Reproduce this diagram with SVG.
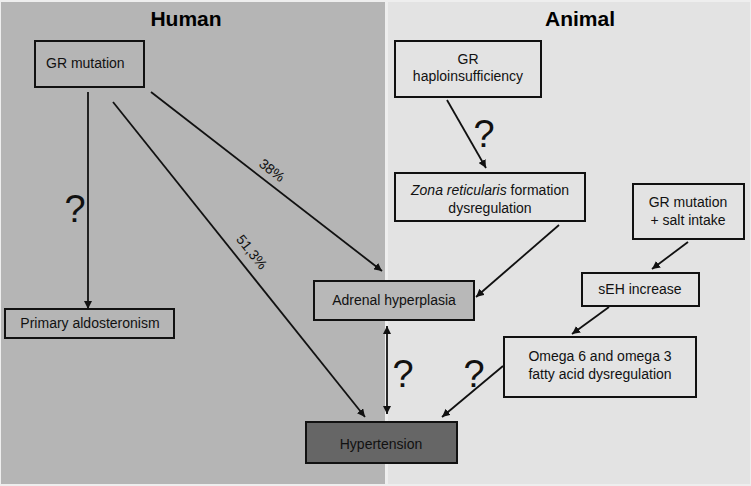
<svg xmlns="http://www.w3.org/2000/svg" width="751" height="486" viewBox="0 0 751 486">
<style>
.bx{stroke:#111;stroke-width:2;}
.t{font-family:"Liberation Sans",Arial,sans-serif;font-size:14px;fill:#111;text-anchor:middle;}
.h{font-family:"Liberation Sans",Arial,sans-serif;font-size:21px;font-weight:bold;fill:#000;text-anchor:middle;}
.q{font-family:"Liberation Sans",Arial,sans-serif;font-size:38px;fill:#111;text-anchor:middle;}
.lb{font-family:"Liberation Sans",Arial,sans-serif;font-size:14px;fill:#111;text-anchor:middle;}
.c{stroke:#111;stroke-width:1.8;fill:none;}
</style>
<defs>
<marker id="ah" viewBox="0 0 10 10" refX="10" refY="5" markerWidth="8" markerHeight="8" orient="auto-start-reverse" markerUnits="userSpaceOnUse">
<path d="M0,0 L10,5 L0,10 z" fill="#111"/>
</marker>
</defs>
<rect x="0" y="0" width="751" height="486" fill="#eeeeee"/>
<rect x="1" y="2" width="384" height="482" fill="#b5b5b5"/>
<rect x="388" y="2" width="362" height="482" fill="#e3e3e3"/>
<text class="h" x="186" y="26">Human</text>
<text class="h" x="580" y="26">Animal</text>
<g id="connectors">
<line class="c" x1="88" y1="92" x2="88" y2="309" marker-end="url(#ah)"/>
<line class="c" x1="151" y1="92" x2="382" y2="271" marker-end="url(#ah)"/>
<line class="c" x1="113" y1="102" x2="365" y2="417" marker-end="url(#ah)"/>
<line class="c" x1="447" y1="100" x2="486" y2="168" marker-end="url(#ah)"/>
<line class="c" x1="559" y1="225" x2="476" y2="297" marker-end="url(#ah)"/>
<line class="c" x1="688" y1="242" x2="652" y2="269" marker-end="url(#ah)"/>
<line class="c" x1="609" y1="307" x2="572" y2="334" marker-end="url(#ah)"/>
<line class="c" x1="503" y1="366" x2="442" y2="417" marker-end="url(#ah)"/>
<line class="c" x1="387" y1="326" x2="387" y2="414" marker-start="url(#ah)" marker-end="url(#ah)"/>
<text class="lb" transform="translate(269,174) rotate(37.8)">38%</text>
<text class="lb" transform="translate(248,255) rotate(51.3)">51,3%</text>
<text class="q" x="75" y="222">?</text>
<text class="q" x="484" y="147">?</text>
<text class="q" x="403" y="387">?</text>
<text class="q" x="474" y="387">?</text>
</g>
<g id="gr-mutation">
<rect class="bx" x="35" y="41" width="109" height="46" fill="#b5b5b5"/>
<text class="t" x="46" y="68" style="text-anchor:start">GR mutation</text>
</g>
<g id="primary-aldosteronism">
<rect class="bx" x="5" y="309" width="169" height="29" fill="#b5b5b5"/>
<text class="t" x="90" y="328">Primary aldosteronism</text>
</g>
<g id="adrenal-hyperplasia">
<rect class="bx" x="314" y="281" width="160" height="39" fill="#b8b8b8"/>
<text class="t" x="394" y="305">Adrenal hyperplasia</text>
</g>
<g id="hypertension">
<rect class="bx" x="306" y="422" width="151" height="41" fill="#666666"/>
<text class="t" x="381" y="449">Hypertension</text>
</g>
<g id="gr-haploinsufficiency">
<rect class="bx" x="395" y="41" width="146" height="56" fill="#e3e3e3"/>
<text class="t" x="468" y="64">GR</text>
<text class="t" x="468" y="81">haploinsufficiency</text>
</g>
<g id="zona-reticularis">
<rect class="bx" x="395" y="173" width="190" height="48" fill="#e3e3e3"/>
<text class="t" x="490" y="195"><tspan font-style="italic">Zona reticularis</tspan> formation</text>
<text class="t" x="490" y="213">dysregulation</text>
</g>
<g id="gr-mutation-salt">
<rect class="bx" x="633" y="184" width="111" height="55" fill="#e3e3e3"/>
<text class="t" x="688" y="207">GR mutation</text>
<text class="t" x="688" y="225">+ salt intake</text>
</g>
<g id="seh-increase">
<rect class="bx" x="582" y="273" width="117" height="33" fill="#e3e3e3"/>
<text class="t" x="640" y="294">sEH increase</text>
</g>
<g id="omega">
<rect class="bx" x="504" y="337" width="192" height="60" fill="#e3e3e3"/>
<text class="t" x="600" y="361">Omega 6 and omega 3</text>
<text class="t" x="600" y="379">fatty acid dysregulation</text>
</g>
</svg>
